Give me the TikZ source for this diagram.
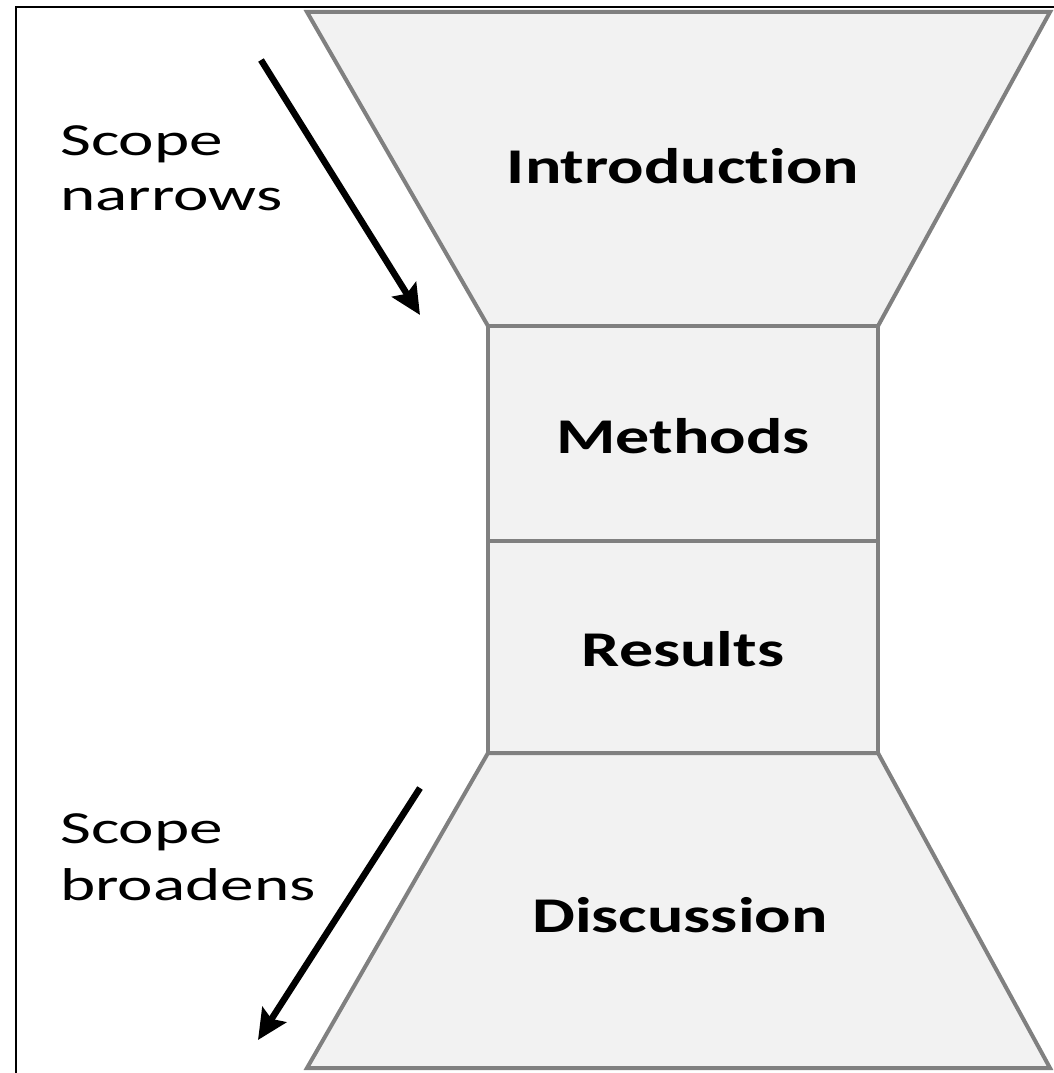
\documentclass[tikz,border=0pt]{standalone}
\usepackage{fontspec}
\setmainfont{Carlito}[FakeStretch=1.36,Ligatures=NoCommon]
\newfontfamily\sidefont{Carlito}[FakeStretch=1.46,Ligatures=NoCommon]
\usetikzlibrary{arrows.meta}
\begin{document}
\begin{tikzpicture}[x=1pt,y=-1pt,
  part/.style={draw=black!50,fill=black!5,line width=4pt,line join=miter},
  title/.style={font=\bfseries\fontsize{50}{55}\selectfont,anchor=base,inner sep=0pt},
  side/.style={font=\sidefont\fontsize{46}{55}\selectfont,anchor=base west,inner sep=0pt},
  flow/.style={line width=6.5pt,-{Stealth[length=30pt,width=28pt,inset=5pt]}}]
\useasboundingbox (0,0) rectangle (1053,1073);
% frame
\draw[line width=2.5pt] (16,1080) -- (16,7) -- (1060,7);
% coordinates of the funnel
\coordinate (tl) at (307,12);
\coordinate (tr) at (1050,12);
\coordinate (ml) at (488,326);
\coordinate (mr) at (878,326);
\coordinate (cl) at (488,541);
\coordinate (cr) at (878,541);
\coordinate (rl) at (488,753);
\coordinate (rr) at (878,753);
\coordinate (bl) at (307,1068);
\coordinate (br) at (1050,1068);
\draw[part] (tl) -- (tr) -- (mr) -- (ml) -- cycle;
\draw[part] (ml) -- (mr) -- (cr) -- (cl) -- cycle;
\draw[part] (cl) -- (cr) -- (rr) -- (rl) -- cycle;
\draw[part] (rl) -- (rr) -- (br) -- (bl) -- cycle;
% labels
\node[title] (intro) at (683,183) {Introduction};
\node[title] (meth) at (683,453) {Methods};
\node[title] (res) at (683,666) {Results};
\node[title] (disc) at (680,932) {Discussion};
\node[side] (n1) at (60,155) {Scope};
\node[side] (n2) at (60,210) {narrows};
\node[side] (b1) at (60,843) {Scope};
\node[side] (b2) at (60,900) {broadens};
% arrows
\coordinate (a1s) at (261,60);
\coordinate (a1e) at (420,315);
\coordinate (a2s) at (420,788);
\coordinate (a2e) at (258,1040);
\draw[flow] (a1s) -- (a1e);
\draw[flow] (a2s) -- (a2e);
\end{tikzpicture}
\end{document}
